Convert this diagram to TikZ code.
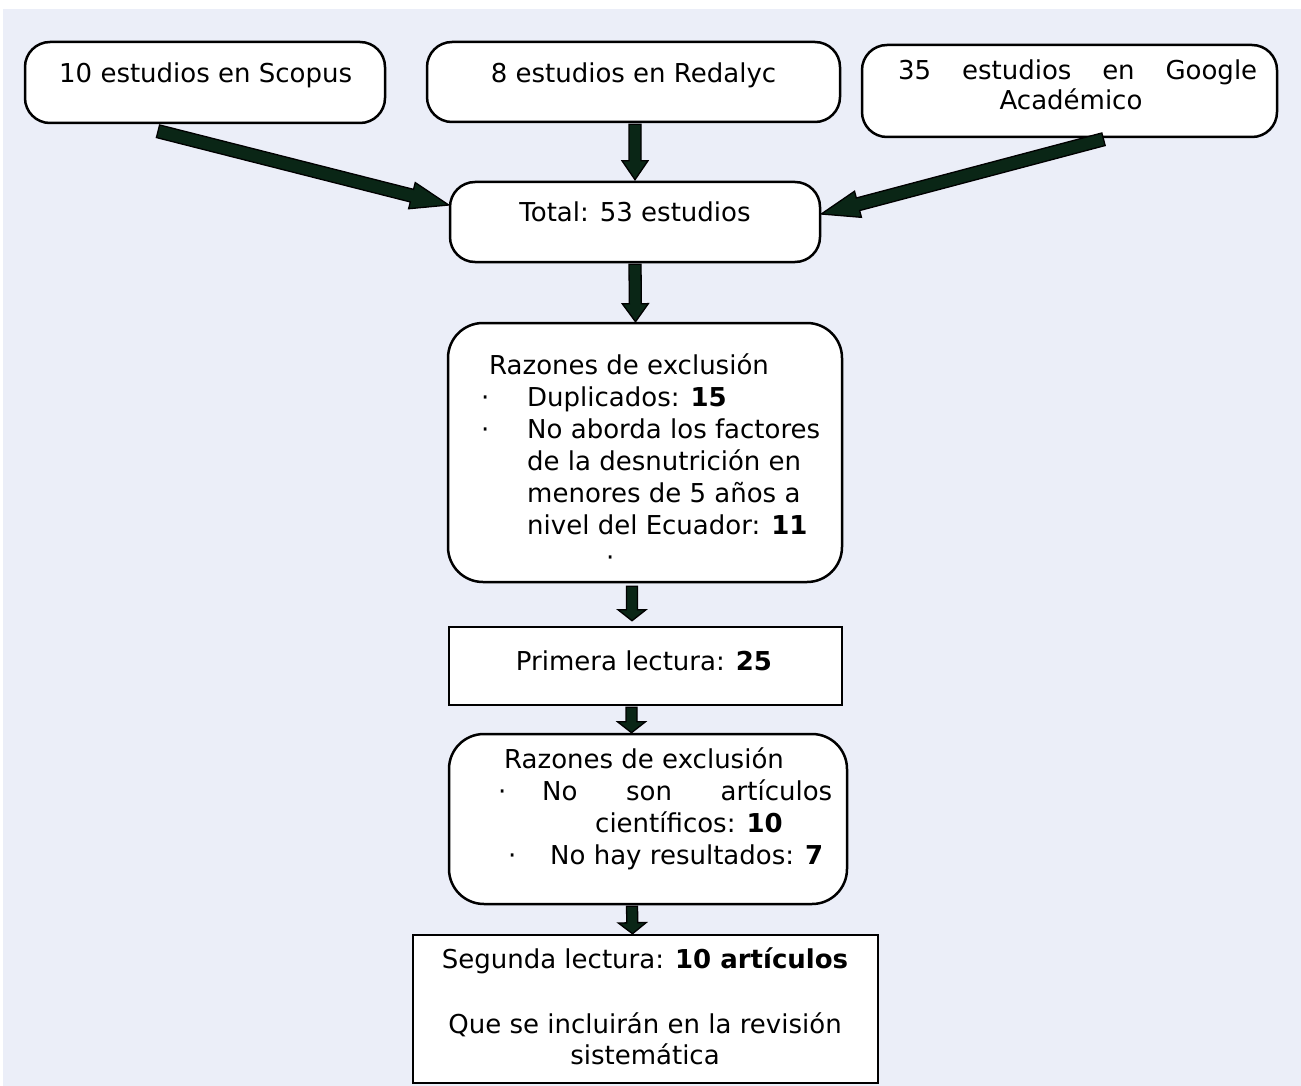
\documentclass[tikz,border=0pt]{standalone}
\usepackage{fontspec}
\setmainfont{DejaVu Sans}
\usetikzlibrary{calc}
\definecolor{bglav}{RGB}{235,238,248}
\definecolor{arrowgreen}{RGB}{10,38,22}
% #1 tail, #2 tip, #3 shaft half width, #4 head half width, #5 head length
\newcommand\fatarrow[5]{%
  \coordinate (fatH) at ($(#2)!#5!(#1)$);
  \filldraw[fill=arrowgreen, draw=black, line width=1.3pt, line join=miter]
    ($(#1)!#3!90:(#2)$) -- ($(fatH)!#3!90:(#2)$) -- ($(fatH)!#4!90:(#2)$) -- (#2)
    -- ($(fatH)!#4!-90:(#2)$) -- ($(fatH)!#3!-90:(#2)$) -- ($(#1)!#3!-90:(#2)$) -- cycle;
}
\begin{document}
\begin{tikzpicture}[x=1pt,y=-1pt,
  rbox/.style={draw=black, fill=white, line width=2.5pt, rounded corners=#1, inner sep=0pt},
  rbox/.default=25pt,
  sbox/.style={draw=black, fill=white, line width=2.5pt, inner sep=0pt},
  txt/.style={inner sep=0pt, font=\fontsize{26}{32}\selectfont}]
\useasboundingbox (0,0) rectangle (1301,1086);
\fill[white] (0,0) rectangle (1301,1086);
\fill[bglav] (3,9) rectangle (1301,1086);

% boxes
\node[rbox, minimum width=360pt, minimum height=81pt] (scopus) at (205,82.5) {};
\node[rbox, minimum width=413pt, minimum height=80pt] (redalyc) at (633.5,82) {};
\node[rbox, minimum width=415pt, minimum height=92pt] (google) at (1069.5,91) {};
\node[rbox, minimum width=370pt, minimum height=80pt] (total) at (635,222) {};
\node[rbox=35pt, minimum width=394pt, minimum height=259pt] (raz1) at (645,452.5) {};
\node[sbox, minimum width=393pt, minimum height=78pt] (prim) at (645.5,666) {};
\node[rbox=35pt, minimum width=398pt, minimum height=170pt] (raz2) at (648,819) {};
\node[sbox, minimum width=465pt, minimum height=148pt] (seg) at (645.5,1009) {};

% texts
\node[txt, anchor=base west] (tscopus) at (59,83) {10 estudios en Scopus};
\node[txt, anchor=base] (tredalyc) at (633.5,83) {8 estudios en Redalyc};
\node[txt, anchor=base west] (tgoogleA) at (898,80) {\makebox[359pt][s]{35 estudios en Google}};
\node[txt, anchor=base] (tgoogleB) at (1071,110) {Académico};
\node[txt, anchor=base] (ttotal) at (635,222) {Total: 53 estudios};
\node[txt, anchor=base west] (traz1) at (481,374) {\parbox[t]{380pt}{\raggedright
  \hspace*{8pt}Razones de exclusión\\
  \makebox[46pt][l]{·}Duplicados: \textbf{15}\\
  \makebox[46pt][l]{·}No aborda los factores\\
  \hspace*{46pt}de la desnutrición en\\
  \hspace*{46pt}menores de 5 años a\\
  \hspace*{46pt}nivel del Ecuador: \textbf{11}\\
  \hspace*{125pt}·}};
\node[txt, anchor=base] (tprim) at (644,670) {Primera lectura: \textbf{25}};
\node[txt, anchor=base west] (traz2) at (498,768) {\parbox[t]{380pt}{\raggedright
  \hspace*{6pt}Razones de exclusión\\
  \makebox[44pt][l]{·}\makebox[290pt][s]{No son artículos}\\
  \hspace*{97pt}científicos: \textbf{10}\\
  \hspace*{10pt}\makebox[42pt][l]{·}No hay resultados: \textbf{7}}};
\node[txt, anchor=base] (tseg) at (645,968) {\parbox[t]{450pt}{\centering\setlength\baselineskip{31pt}%
  Segunda lectura: \textbf{10 artículos}\\[34pt]
  Que se incluirán en la revisión\\
  sistemática}};

% arrow end points
\coordinate (t1) at ([xshift=-47pt,yshift=-7pt]scopus.south);
\coordinate (h1) at ([yshift=17pt]total.west);
\coordinate (t2) at ([xshift=1.5pt,yshift=-1pt]redalyc.south);
\coordinate (h2) at ([yshift=1pt]total.north);
\coordinate (t3) at ([xshift=34pt,yshift=-1pt]google.south);
\coordinate (h3) at ([yshift=8pt]total.east);
\coordinate (t4) at ([yshift=-1pt]total.south);
\coordinate (h4) at ([xshift=-9.5pt]raz1.north);
\coordinate (t5) at ([xshift=-13pt,yshift=-3pt]raz1.south);
\coordinate (h5) at ([xshift=-13.5pt,yshift=5pt]prim.north);
\coordinate (t6) at ([xshift=-14pt,yshift=-1pt]prim.south);
\coordinate (h6) at ([xshift=-16.5pt]raz2.north);
\coordinate (t7) at ([xshift=-16pt,yshift=-1pt]raz2.south);
\coordinate (h7) at ([xshift=-13pt]seg.north);

\fatarrow{t1}{h1}{6.5pt}{13.5pt}{38pt}
\fatarrow{t2}{h2}{6pt}{13pt}{19pt}
\fatarrow{t3}{h3}{6.5pt}{13.5pt}{38pt}
\fatarrow{t4}{h4}{6pt}{13pt}{18pt}
\fatarrow{t5}{h5}{5.5pt}{14pt}{11pt}
\fatarrow{t6}{h6}{5.5pt}{14pt}{11pt}
\fatarrow{t7}{h7}{5.5pt}{14pt}{11pt}
\end{tikzpicture}
\end{document}
